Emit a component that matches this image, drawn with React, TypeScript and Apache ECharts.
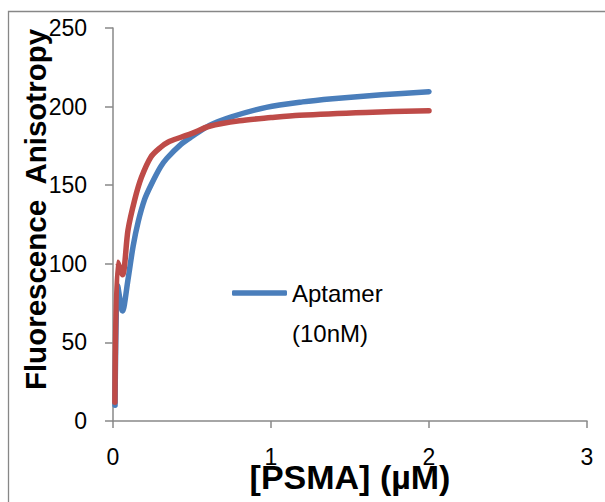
import React, { useEffect, useRef } from "react";
import * as echarts from "echarts";

// Blue: Aptamer (10nM)
const blueX = [0.013, 0.03, 0.06, 0.095, 0.127, 0.16, 0.2, 0.24, 0.3, 0.34, 0.43, 0.5, 0.61, 0.75, 0.97, 1.2, 1.39, 1.7, 2.0];
const blueY = [10, 86, 70, 90, 111, 127, 141, 150, 161.5, 167, 176, 181, 188, 193.5, 199.5, 203, 205, 207.5, 209.5];
// Red: second curve (no legend entry)
const redX = [0.012, 0.03, 0.06, 0.095, 0.137, 0.18, 0.24, 0.3, 0.35, 0.43, 0.5, 0.61, 0.8, 1.0, 1.18, 1.6, 2.0];
const redY = [12, 101, 93, 121.5, 140.6, 155, 168, 174, 177.5, 180.5, 183, 187.5, 191, 193, 194.5, 196.3, 197.4];

const xTicks = { min: 0, max: 3, interval: 1 };
const yTicks = { min: 0, max: 250, interval: 50 };

const FONT = "Liberation Sans";

export default function App() {
  const ref = useRef<HTMLDivElement>(null);
  useEffect(() => {
    if (!ref.current) return;
    const chart = echarts.init(ref.current, null, { renderer: "svg" });
    const axisLineStyle = { color: "#898989", width: 1.5 };
    chart.setOption({
      animation: false,
      backgroundColor: "#ffffff",
      grid: { left: 113, right: 18, top: 28, bottom: 81, outerBoundsMode: "none" },
      graphic: [
        {
          type: "rect",
          shape: { x: 8.5, y: 11.5, width: 700, height: 600 },
          style: { fill: "none", stroke: "#878787", lineWidth: 1.3 },
          silent: true,
        },
      ],
      legend: {
        data: [{ name: "Aptamer (10nM)", icon: "roundRect" }],
        left: 232,
        top: 233,
        padding: 0,
        itemWidth: 55,
        itemHeight: 5.5,
        itemStyle: { color: "#4A7EBB" },
        formatter: () => "\u00a0\nAptamer\n(10nM)",
        textStyle: {
          fontFamily: FONT,
          fontSize: 24,
          color: "#000",
          lineHeight: 40,
        },
      },
      xAxis: {
        type: "value",
        min: xTicks.min,
        max: xTicks.max,
        interval: xTicks.interval,
        name: "[PSMA] (µM)",
        nameLocation: "middle",
        nameGap: 39,
        nameMoveOverlap: false,
        nameTextStyle: { fontFamily: FONT, fontSize: 34, fontWeight: "bold", color: "#000" },
        axisLine: { show: true, lineStyle: axisLineStyle },
        axisTick: { show: true, length: 7, lineStyle: axisLineStyle },
        axisLabel: { margin: 24, fontFamily: FONT, fontSize: 23, color: "#000" },
        splitLine: { show: false },
      },
      yAxis: {
        type: "value",
        min: yTicks.min,
        max: yTicks.max,
        interval: yTicks.interval,
        name: "Fluorescence  Anisotropy",
        nameLocation: "middle",
        nameRotate: 90,
        nameGap: 63,
        nameMoveOverlap: false,
        nameTextStyle: {
          fontFamily: FONT,
          fontSize: 29.5,
          fontWeight: "bold",
          color: "#000",
          padding: [0, 0, 0, 30],
        },
        axisLine: { show: true, lineStyle: axisLineStyle },
        axisTick: { show: true, length: 8, lineStyle: axisLineStyle },
        axisLabel: { margin: 26, fontFamily: FONT, fontSize: 23, color: "#000" },
        splitLine: { show: false },
      },
      series: [
        {
          name: "Aptamer (10nM)",
          type: "line",
          data: blueX.map((x, i) => [x, blueY[i]]),
          smooth: 0.3,
          symbol: "none",
          lineStyle: { color: "#4A7EBB", width: 5.5, cap: "round", join: "round" },
          itemStyle: { color: "#4A7EBB" },
        },
        {
          name: "Control",
          type: "line",
          data: redX.map((x, i) => [x, redY[i]]),
          smooth: 0.3,
          symbol: "none",
          lineStyle: { color: "#BE4B48", width: 5.5, cap: "round", join: "round" },
          itemStyle: { color: "#BE4B48" },
        },
      ],
    });
    return () => chart.dispose();
  }, []);
  return (
    <div
      ref={ref}
      style={{ position: "fixed", left: 0, top: 0, width: 605, height: 502, background: "#fff" }}
    />
  );
}
